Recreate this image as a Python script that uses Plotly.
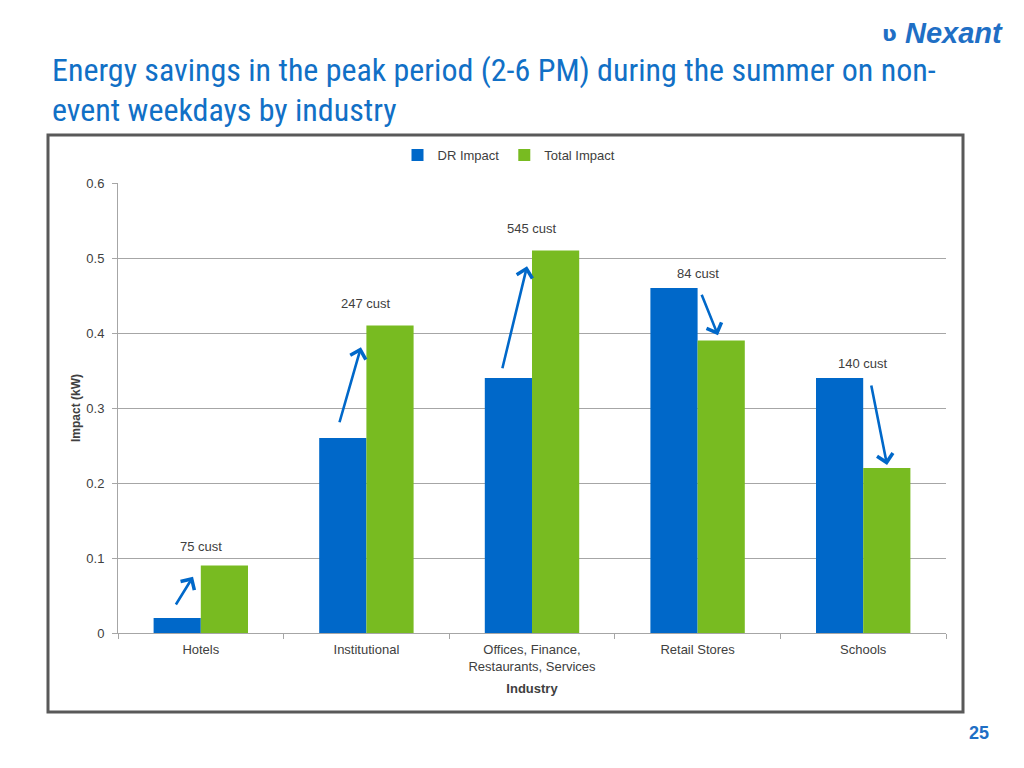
import plotly.graph_objects as go

categories = ["Hotels", "Institutional", "Offices, Finance,<br>Restaurants, Services", "Retail Stores", "Schools"]
dr_impact = [0.02, 0.26, 0.34, 0.46, 0.34]
total_impact = [0.09, 0.41, 0.51, 0.39, 0.22]
cust_labels = ["75 cust", "247 cust", "545 cust", "84 cust", "140 cust"]
cust_label_y = [0.115, 0.439, 0.540, 0.479, 0.359]
# arrows: (x_start, y_start, x_end, y_end) in category index / data units
arrows = [
    (-0.156, 0.036, -0.047, 0.075),
    (0.835, 0.279, 0.967, 0.381),
    (1.819, 0.351, 1.970, 0.489),
    (3.021, 0.453, 3.123, 0.397),
    (4.047, 0.332, 4.144, 0.224),
]
y_ticks = [0, 0.1, 0.2, 0.3, 0.4, 0.5, 0.6]
y_tick_text = ["0", "0.1", "0.2", "0.3", "0.4", "0.5", "0.6"]

BLUE = "#0068C9"
GREEN = "#78BB21"
TITLE_BLUE = "#1170C6"
GRID = "#A6A6A6"

fig = go.Figure()
fig.add_trace(go.Bar(name="DR Impact", x=categories, y=dr_impact, marker_color=BLUE, marker_line_width=0))
fig.add_trace(go.Bar(name="Total Impact", x=categories, y=total_impact, marker_color=GREEN, marker_line_width=0))

annotations = []
for c, t, y in zip(categories, cust_labels, cust_label_y):
    annotations.append(dict(x=c, y=y, xref="x", yref="y", text=t, showarrow=False,
                            font=dict(family="Liberation Sans, Arial", size=13, color="#404040")))
for (x0, y0, x1, y1) in arrows:
    annotations.append(dict(x=x1, y=y1, ax=x0, ay=y0, xref="x", yref="y", axref="x", ayref="y",
                            text="", showarrow=True, arrowhead=4, arrowsize=1.2, arrowwidth=2.6,
                            arrowcolor=BLUE, standoff=0, startstandoff=0))

# title
TFONT = dict(family="Liberation Sans Narrow, Arial Narrow, Roboto Condensed", size=32, color=TITLE_BLUE)
annotations.append(dict(x=(50 - 118) / 828, y=(633 - 70) / 450, xref="paper", yref="paper", xanchor="left", yanchor="middle",
                        text="Energy savings in the peak period (2-6 PM) during the summer on non-", showarrow=False,
                        font=TFONT))
annotations.append(dict(x=(50 - 118) / 828, y=(633 - 110) / 450, xref="paper", yref="paper", xanchor="left", yanchor="middle",
                        text="event weekdays by industry", showarrow=False, font=TFONT))
# logo
annotations.append(dict(x=(1005 - 118) / 828, y=(633 - 33) / 450, xref="paper", yref="paper", xanchor="right", yanchor="middle",
                        text="<b><i>Nexant</i></b>", showarrow=False,
                        font=dict(family="Liberation Sans, Arial", size=29, color="#1F6FC5")))
annotations.append(dict(x=(889 - 118) / 828, y=(633 - 33) / 450, xref="paper", yref="paper", xanchor="center", yanchor="middle",
                        text="<b>ʋ</b>", showarrow=False,
                        font=dict(family="DejaVu Sans", size=22, color="#1F6FC5")))
# page number
annotations.append(dict(x=(979 - 118) / 828, y=(633 - 733) / 450, xref="paper", yref="paper", xanchor="center", yanchor="middle",
                        text="<b>25</b>", showarrow=False,
                        font=dict(family="Liberation Sans, Arial", size=18, color="#1F6FC5")))

shapes = [dict(type="rect", xref="paper", yref="paper",
               x0=(48 - 118) / 828, x1=(963 - 118) / 828,
               y0=(633 - 712) / 450, y1=(633 - 135) / 450,
               line=dict(color="#595959", width=3), fillcolor="rgba(0,0,0,0)", layer="below")]

fig.update_layout(
    width=1024, height=768,
    margin=dict(l=110, r=86, t=175, b=143),
    paper_bgcolor="white", plot_bgcolor="white",
    barmode="group", bargap=0.43, bargroupgap=0,
    font=dict(family="Liberation Sans, Arial", size=13, color="#404040"),
    legend=dict(orientation="h", x=(509 - 118) / 828, xanchor="center", y=(633 - 155) / 450, yanchor="middle",
                font=dict(size=13, color="#404040"), itemwidth=30, traceorder="normal", bgcolor="rgba(0,0,0,0)"),
    xaxis=dict(showline=True, linecolor=GRID, linewidth=1, ticks="outside", tickson="boundaries",
               ticklen=5, tickcolor=GRID, showgrid=False, ticklabelstandoff=4,
               title=dict(text="<b>Industry</b>", font=dict(size=13, color="#404040"), standoff=11),
               tickfont=dict(size=13, color="#404040")),
    yaxis=dict(range=[0, 0.6], tickvals=y_ticks, ticktext=y_tick_text, showgrid=True, gridcolor=GRID, gridwidth=1,
               showline=True, linecolor=GRID, linewidth=1, ticks="outside", ticklen=5, tickcolor=GRID,
               ticklabelstandoff=5,
               zeroline=False, tickfont=dict(size=13, color="#404040"),
               title=dict(text="<b>Impact (kW)</b>", font=dict(size=12, color="#404040"), standoff=3)),
    annotations=annotations,
    shapes=shapes,
    showlegend=True,
)

fig.write_html("out.html")
